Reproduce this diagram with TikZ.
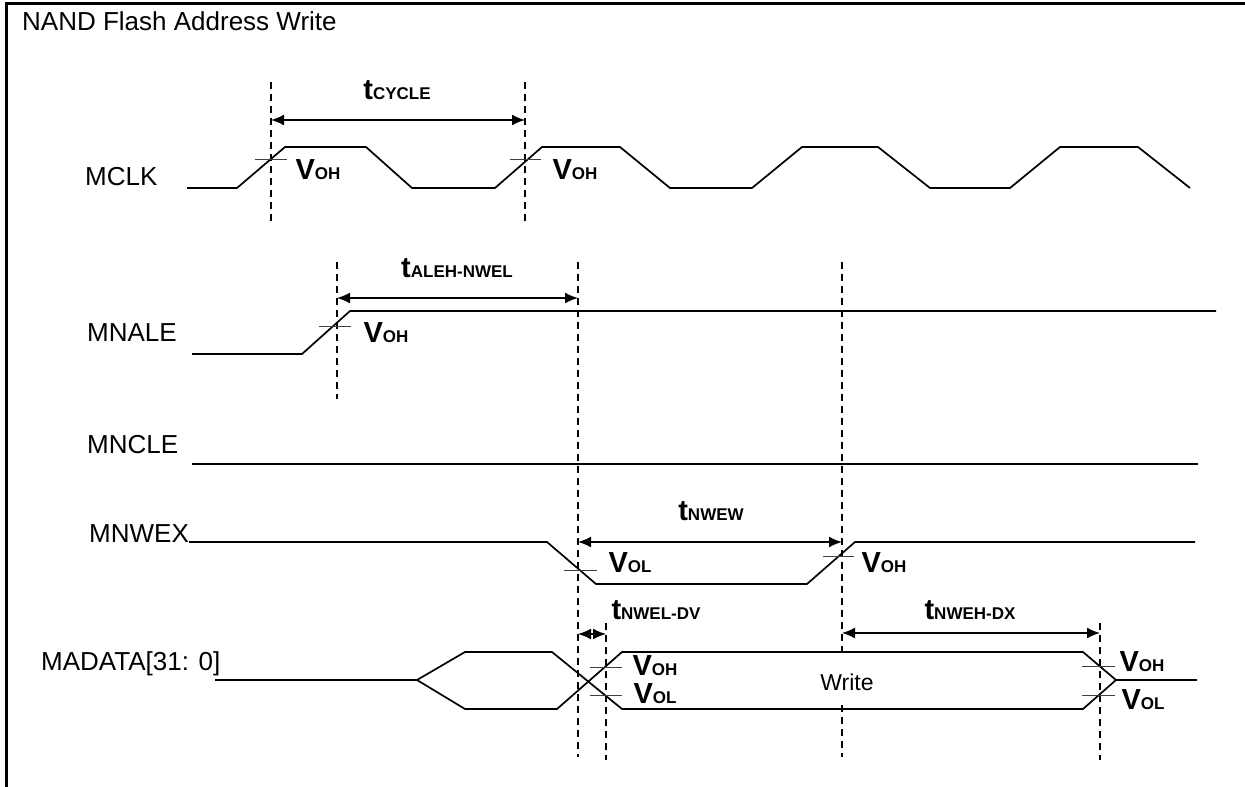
\documentclass[tikz,border=0pt]{standalone}
\usepackage{fontspec}
\setmainfont{Liberation Sans}
\usetikzlibrary{arrows.meta}
\newcommand{\sigtext}[2]{{\fontsize{#1}{#1}\selectfont #2}}
\newcommand{\tname}[1]{\sigtext{29}{\bfseries t}\sigtext{17}{\bfseries #1}}
\newcommand{\vname}[1]{\sigtext{29}{\bfseries V}\sigtext{17}{\bfseries #1}}
\tikzset{sig/.style = {line width=1.7pt, line join=miter}}
\tikzset{guide/.style = {line width=1.3pt, dash pattern=on 7pt off 5pt}}
\tikzset{tick/.style = {line width=.9pt, black!75}}
\tikzset{arr/.style = {line width=1.7pt, {Latex[length=13pt,width=11pt]}-{Latex[length=13pt,width=11pt]}}}
\tikzset{signame/.style = {inner sep=0pt, anchor=west, font=\fontsize{26}{26}\selectfont}}
\tikzset{lvl/.style = {inner sep=0pt}}

\begin{document}
\begin{tikzpicture}[x=1pt, y=-1pt]

\useasboundingbox (0,0) rectangle (1245,787);
\draw[line width=3pt] (6.5,787) -- (6.5,3.5) -- (1245,3.5);

\node[signame] (title) at (22,21) {NAND Flash Address Write};
\node[signame] (mclk) at (85,177) {MCLK};
\node[signame] (mnale) at (87,333) {MNALE};
\node[signame] (mncle) at (87,444.5) {MNCLE};
\node[signame] (mnwex) at (89,533.5) {MNWEX};
\node[signame] (madata) at (41,663.5) {MADATA[31: 0]};

% vertical guides
\coordinate (g1t) at (271,82);  \coordinate (g1b) at (271,221);
\coordinate (g2t) at (525,82);  \coordinate (g2b) at (525,221);
\coordinate (g3t) at (337,262); \coordinate (g3b) at (337,399);
\coordinate (g4t) at (578,262); \coordinate (g4b) at (578,757);
\coordinate (g5t) at (842,262); \coordinate (g5m) at (842,653);
\coordinate (g5n) at (842,705); \coordinate (g5b) at (842,757);
\coordinate (g6t) at (606,623); \coordinate (g6b) at (606,760);
\coordinate (g7t) at (1100,623); \coordinate (g7b) at (1100,760);
\draw[guide] (g1t) -- (g1b);
\draw[guide] (g2t) -- (g2b);
\draw[guide] (g3t) -- (g3b);
\draw[guide] (g4t) -- (g4b);
\draw[guide] (g5t) -- (g5m);
\draw[guide] (g5n) -- (g5b);
\draw[guide] (g6t) -- (g6b);
\draw[guide] (g7t) -- (g7b);

% waveforms
\draw[sig] (187,188) -- (237,188) -- (285,147) -- (366,147) -- (412,188) -- (495,188) -- (542,147) -- (620,147)
  -- (670,188) -- (752,188) -- (802,147) -- (878,147) -- (930,188) -- (1010,188) -- (1060,147) -- (1138,147) -- (1190,188);
\draw[sig] (192,354) -- (302,354) -- (350,311) -- (1216,311);
\draw[sig] (192,464) -- (1198,464);
\draw[sig] (189,542) -- (547,542) -- (596,584) -- (807,584) -- (855,542) -- (1195,542);
\draw[sig] (215,680) -- (417,680) -- (465,652) -- (552,652) -- (622,709) -- (1083,709) -- (1116,680) -- (1197,680);
\draw[sig] (417,680) -- (465,709) -- (557,709) -- (622,652) -- (1083,652) -- (1116,680);

% level ticks
\draw[tick] (255,159) -- (287,159);
\draw[tick] (510,159) -- (541,159);
\draw[tick] (319,326) -- (351,326);
\draw[tick] (564,570) -- (597,570);
\draw[tick] (823,556) -- (854,556);
\draw[tick] (590,667) -- (622,667);
\draw[tick] (590,695) -- (622,695);
\draw[tick] (1082,666) -- (1115,666);
\draw[tick] (1082,695) -- (1115,695);

% timing arrows
\coordinate (a1l) at (271,120);  \coordinate (a1r) at (525,120);
\coordinate (a2l) at (337,298);  \coordinate (a2r) at (578,298);
\coordinate (a3l) at (578,542);  \coordinate (a3r) at (842,542);
\coordinate (a4l) at (578,634);  \coordinate (a4r) at (606,634);
\coordinate (a5l) at (842,633);  \coordinate (a5r) at (1100,633);
\draw[arr] (a1l) -- (a1r);
\draw[arr] (a2l) -- (a2r);
\draw[arr] (a3l) -- (a3r);
\draw[arr] (a4l) -- (a4r);
\draw[arr] (a5l) -- (a5r);

\node[lvl] (tcycle) at (397,90.5) {\tname{CYCLE}};
\node[lvl] (taleh) at (457,268) {\tname{ALEH-NWEL}};
\node[lvl] (tnwew) at (711,511) {\tname{NWEW}};
\node[lvl] (tnwel) at (656,610) {\tname{NWEL-DV}};
\node[lvl] (tnweh) at (970,610) {\tname{NWEH-DX}};

\node[lvl] (voh1) at (318,170) {\vname{OH}};
\node[lvl] (voh2) at (575,170) {\vname{OH}};
\node[lvl] (voh3) at (386,333) {\vname{OH}};
\node[lvl] (vol1) at (630,563) {\vname{OL}};
\node[lvl] (voh4) at (884,563) {\vname{OH}};
\node[lvl] (voh5) at (655,665.5) {\vname{OH}};
\node[lvl] (vol2) at (655,693.5) {\vname{OL}};
\node[lvl] (voh6) at (1142,662) {\vname{OH}};
\node[lvl] (vol3) at (1143,700) {\vname{OL}};

\node[inner sep=0pt, font=\fontsize{23}{23}\selectfont] (write) at (847,682) {Write};

\end{tikzpicture}
\end{document}
